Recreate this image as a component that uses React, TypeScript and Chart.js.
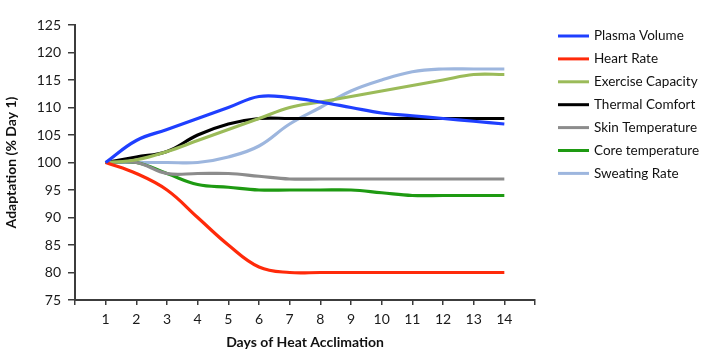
import React, { useEffect, useRef } from "react";
import { Chart, registerables } from "chart.js";

Chart.register(...registerables);

const days = [1, 2, 3, 4, 5, 6, 7, 8, 9, 10, 11, 12, 13, 14];
const seriesNames = [
  "Plasma Volume",
  "Heart Rate",
  "Exercise Capacity",
  "Thermal Comfort",
  "Skin Temperature",
  "Core temperature",
  "Sweating Rate",
];
const seriesColors = ["#1F3FFF", "#FF2A0A", "#9BBB59", "#000000", "#8C8C8C", "#1E9A12", "#9DB6DE"];
const plasmaVolume = [100, 104, 106, 108, 110, 112, 111.8, 111, 110, 109, 108.5, 108, 107.5, 107];
const heartRate = [100, 98, 95, 90, 85, 81, 80, 80, 80, 80, 80, 80, 80, 80];
const exerciseCapacity = [100, 100.5, 102, 104, 106, 108, 110, 111, 112, 113, 114, 115, 116, 116];
const thermalComfort = [100, 101, 102, 105, 107, 108, 108, 108, 108, 108, 108, 108, 108, 108];
const skinTemperature = [100, 100, 98, 98, 98, 97.5, 97, 97, 97, 97, 97, 97, 97, 97];
const coreTemperature = [100, 100, 98, 96, 95.5, 95, 95, 95, 95, 94.5, 94, 94, 94, 94];
const sweatingRate = [100, 100, 100, 100, 101, 103, 107, 110, 113, 115, 116.5, 117, 117, 117];
const seriesValues = [
  plasmaVolume,
  heartRate,
  exerciseCapacity,
  thermalComfort,
  skinTemperature,
  coreTemperature,
  sweatingRate,
];
const yTicks = [75, 80, 85, 90, 95, 100, 105, 110, 115, 120, 125];

const FONT = "Lato, 'Open Sans', sans-serif";
const AXIS_COLOR = "#3c3c3c";

const legendPlugin = {
  id: "customLegend",
  afterDraw(chart: any) {
    const ctx = chart.ctx;
    const x0 = 558;
    const y0 = 36;
    const step = 22.9;
    ctx.save();
    ctx.font = `13.5px ${FONT}`;
    ctx.textBaseline = "middle";
    ctx.textAlign = "left";
    chart.data.datasets.forEach((ds: any, i: number) => {
      const y = y0 + i * step;
      ctx.strokeStyle = ds.borderColor;
      ctx.lineWidth = 3;
      ctx.beginPath();
      ctx.moveTo(x0, y);
      ctx.lineTo(x0 + 31, y);
      ctx.stroke();
      ctx.fillStyle = "#111";
      ctx.fillText(ds.label, x0 + 36, y);
    });
    ctx.restore();
  },
};

export default function App() {
  const ref = useRef<HTMLCanvasElement | null>(null);
  useEffect(() => {
    if (!ref.current) return;
    const chart = new Chart(ref.current, {
      type: "line",
      data: {
        datasets: seriesNames.map((name, i) => ({
          label: name,
          data: days.map((d, j) => ({ x: d, y: seriesValues[i][j] })),
          borderColor: seriesColors[i],
          backgroundColor: seriesColors[i],
          borderWidth: 3.2,
          pointRadius: 0,
          tension: 0.4,
          fill: false,
        })),
      },
      options: {
        animation: false,
        responsive: true,
        maintainAspectRatio: false,
        layout: { padding: { left: 0, right: 175, top: 25, bottom: 0 } },
        plugins: {
          legend: { display: false },
          tooltip: { enabled: false },
        },
        scales: {
          x: {
            type: "linear",
            min: 0,
            max: 15,
            afterBuildTicks: (scale: any) => {
              scale.ticks = [0, ...days, 15].map((v) => ({ value: v }));
            },
            afterFit: (scale: any) => {
              scale.height = 56;
            },
            ticks: {
              autoSkip: false,
              maxRotation: 0,
              padding: 6,
              color: "#1a1a1a",
              font: { family: FONT, size: 14 },
              callback: (v: any) => (v === 0 || v === 15 ? "" : String(v)),
            },
            grid: {
              drawOnChartArea: false,
              drawTicks: true,
              tickLength: 5,
              color: AXIS_COLOR,
              lineWidth: 1.5,
            },
            border: { display: true, color: AXIS_COLOR, width: 2 },
            title: {
              display: true,
              text: "Days of Heat Acclimation",
              color: "#111",
              font: { family: FONT, size: 14, weight: "bold" },
              padding: { top: 3, bottom: 5 },
            },
          },
          y: {
            type: "linear",
            min: 75,
            max: 125,
            afterBuildTicks: (scale: any) => {
              scale.ticks = yTicks.map((v) => ({ value: v }));
            },
            afterFit: (scale: any) => {
              scale.width = 75;
            },
            ticks: {
              padding: 7,
              color: "#1a1a1a",
              font: { family: FONT, size: 14 },
            },
            grid: {
              drawOnChartArea: false,
              drawTicks: true,
              tickLength: 7,
              color: AXIS_COLOR,
              lineWidth: 1.5,
            },
            border: { display: true, color: AXIS_COLOR, width: 2 },
            title: {
              display: true,
              text: "Adaptation (% Day 1)",
              color: "#111",
              font: { family: FONT, size: 14, weight: "bold" },
              padding: { top: 3, bottom: 4 },
            },
          },
        },
      },
      plugins: [legendPlugin],
    } as any);
    return () => chart.destroy();
  }, []);
  return (
    <div style={{ position: "fixed", left: 0, top: 0, width: 710, height: 356, background: "#fff" }}>
      <canvas ref={ref} />
    </div>
  );
}
